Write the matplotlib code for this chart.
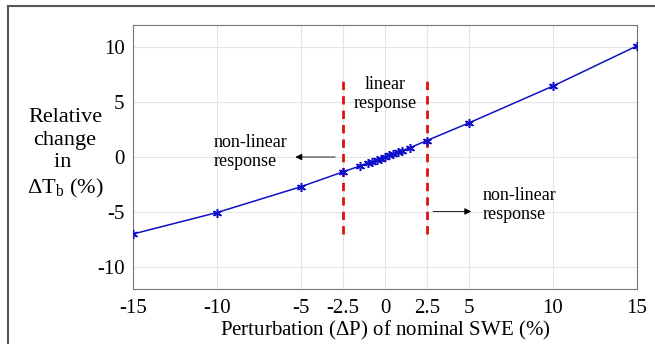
import numpy as np
import matplotlib
matplotlib.use("Agg")
import matplotlib.pyplot as plt
from matplotlib.lines import Line2D

# perturbation of nominal SWE (%) and relative change in dTb (%)
dP = [-15, -10, -5, -2.5, -1.5, -1, -0.75, -0.5, -0.25, 0,
      0.25, 0.5, 0.75, 1, 1.5, 2.5, 5, 10, 15]
dTb = [-7.0, -5.05, -2.7, -1.35, -0.82, -0.55, -0.42, -0.28, -0.14, 0.0,
       0.14, 0.28, 0.42, 0.56, 0.85, 1.5, 3.1, 6.45, 10.1]
xticks = [-15, -10, -5, -2.5, 0, 2.5, 5, 10, 15]
xticklabels = ['-15', '-10', '-5', '-2.5', '0', '2.5', '5', '10', '15']
yticks = [-10, -5, 0, 5, 10]
yticklabels = ['-10', '-5', '0', '5', '10']
bounds = [-2.5, 2.5]

plt.rcParams['font.family'] = ['Liberation Serif', 'DejaVu Serif']
plt.rcParams['mathtext.fontset'] = 'custom'
plt.rcParams['mathtext.rm'] = 'Liberation Serif'
plt.rcParams['axes.unicode_minus'] = False

fig = plt.figure(figsize=(6.55, 3.44), dpi=100)
ax = fig.add_axes([133/655, 1-289/344, (637-133)/655, (289-25)/344])

ax.plot(dP, dTb, color='#1010c8', lw=1.1, marker=(6, 2, 0), ms=6.5,
        markeredgewidth=1.1, zorder=3)
for b in bounds:
    ax.plot([b, b], [-7, 7], color='#e01010', lw=2, ls=(0, (3, 2.2)), zorder=2)

ax.set_xlim(-15, 15)
ax.set_ylim(-12, 12)
ax.set_xticks(xticks)
ax.set_xticklabels(xticklabels)
ax.set_yticks(yticks)
ax.set_yticklabels(yticklabels)
ax.grid(True, color='#e4e4e4', lw=0.8)
ax.set_axisbelow(True)
ax.tick_params(labelsize=15, length=0)
ax.tick_params(axis='x', pad=7)
ax.tick_params(axis='y', pad=6)
for s in ax.spines.values():
    s.set_color('#777777')
    s.set_linewidth(0.8)

ax.set_xlabel('Perturbation ($\\Delta$P) of nominal SWE (%)', fontsize=15, labelpad=1)
fig.text(65/655, 1-154/344, 'Relative\nchange\nin \n$\\Delta$T$_\\mathrm{b}$ (%)',
         fontsize=16, ha='center', va='center', linespacing=1.25)

ax.text(0, 5.7, 'linear\nresponse', fontsize=13, ha='center', va='center',
        linespacing=1.15)
ax.text(-10.2, 0.45, 'non-linear\nresponse', fontsize=13, ha='left', va='center',
        linespacing=1.15)
ax.text(5.8, -4.35, 'non-linear\nresponse', fontsize=13, ha='left', va='center',
        linespacing=1.15)
ax.annotate('', xy=(-5.5, 0), xytext=(-2.8, 0),
            arrowprops=dict(arrowstyle='-|>', color='black', lw=0.6,
                            mutation_scale=10))
ax.annotate('', xy=(5.3, -4.95), xytext=(2.7, -4.95),
            arrowprops=dict(arrowstyle='-|>', color='black', lw=0.6,
                            mutation_scale=10))

# outer frame (left and top edges visible)
fig.add_artist(Line2D([7.5/655, 7.5/655], [0, 1-6/344], color='#555555', lw=1.5))
fig.add_artist(Line2D([7.5/655, 1], [1-6/344, 1-6/344], color='#555555', lw=1.5))

fig.savefig('out.png', dpi=100)
